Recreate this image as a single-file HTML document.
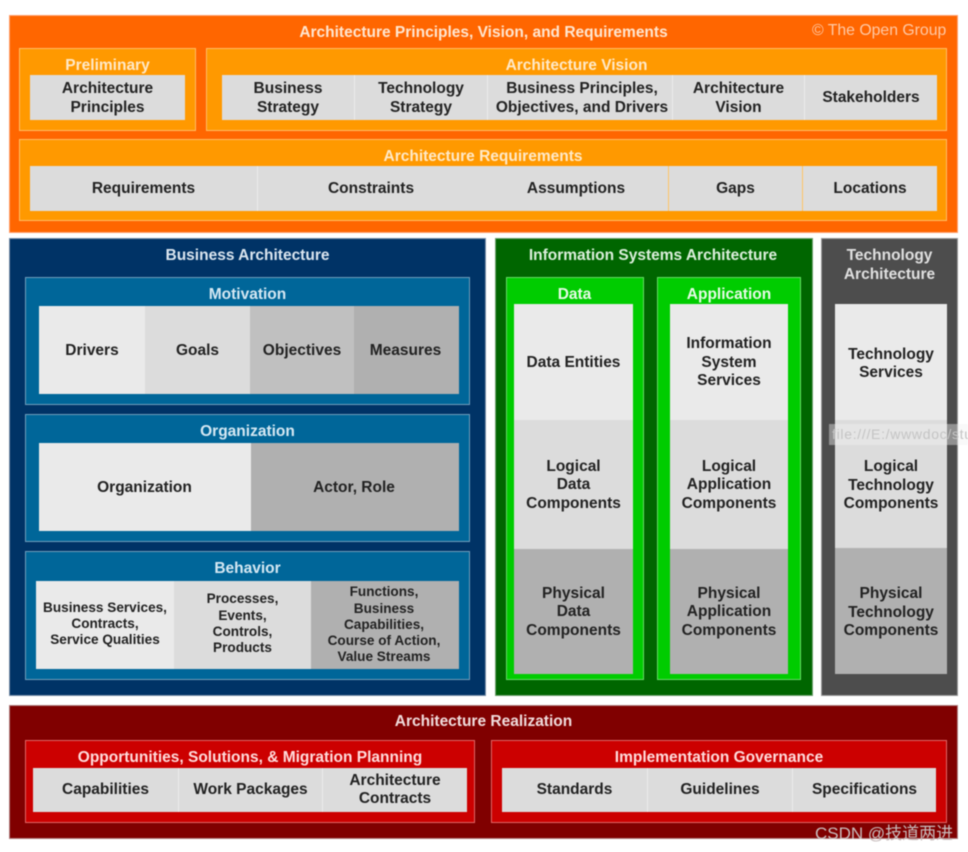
<!DOCTYPE html>
<html><head><meta charset="utf-8">
<style>
html,body{margin:0;padding:0;background:#fff;width:968px;height:852px;overflow:hidden}
#r{position:absolute;left:0;top:0;width:968px;height:852px;filter:blur(.55px);font:bold 15.5px/18.5px "Liberation Sans",sans-serif;color:#222}
.b{position:absolute;box-sizing:border-box}
.c{position:absolute;box-sizing:border-box;display:flex;align-items:center;justify-content:center;text-align:center;padding-top:2px}
.h{position:absolute;text-align:center;white-space:nowrap;color:#fff}
.t{white-space:nowrap}
.s{font-size:13.6px;line-height:16.3px;padding-top:0}
.n{padding-top:0}
.p4{padding-top:4px}
.dl{border-left:1px solid #ececec}
.dg{border-left:1px solid #ffc464}
.l1{background:#eaeaea}.l2{background:#dcdcdc}.l3{background:#c0c0c0}.l4{background:#b0b0b0}
</style></head><body><div id="r">
<!-- Top orange -->
<div class="b" style="left:9px;top:15px;width:949px;height:218px;background:#ff6600;border:1px solid #ffa070"></div>
<div class="h" style="left:9px;top:24px;width:949px;color:#ffe6d0">Architecture Principles, Vision, and Requirements</div>
<div class="h" style="left:812px;top:22px;font-weight:normal;font-size:15.8px;color:#ffc9a5">© The Open Group</div>
<div class="b" style="left:19px;top:48px;width:177px;height:83px;background:#ff9900;border:1px solid #ffbb66"></div>
<div class="h" style="left:19px;top:57px;width:177px;color:#ffe9c8">Preliminary</div>
<div class="c l2" style="left:30px;top:75px;width:155px;height:45px">Architecture<br>Principles</div>
<div class="b" style="left:206px;top:48px;width:741px;height:83px;background:#ff9900;border:1px solid #ffbb66"></div>
<div class="h" style="left:206px;top:57px;width:741px;color:#ffe9c8">Architecture Vision</div>
<div class="c l2" style="left:222px;top:75px;width:132px;height:45px">Business<br>Strategy</div>
<div class="c l2 dl" style="left:354px;top:75px;width:133px;height:45px">Technology<br>Strategy</div>
<div class="c l2 dl" style="left:487px;top:75px;width:189px;height:45px"><span class="t">Business Principles,<br>Objectives, and Drivers</span></div>
<div class="c l2 dl" style="left:672px;top:75px;width:132px;height:45px;z-index:1">Architecture<br>Vision</div>
<div class="c l2 dl" style="left:804px;top:75px;width:133px;height:45px">Stakeholders</div>
<div class="b" style="left:19px;top:139px;width:928px;height:82px;background:#ff9900;border:1px solid #ffbb66"></div>
<div class="h" style="left:19px;top:148px;width:928px;color:#ffe9c8">Architecture Requirements</div>
<div class="c l2" style="left:30px;top:166px;width:227px;height:45px">Requirements</div>
<div class="c l2 dl" style="left:257px;top:166px;width:227px;height:45px">Constraints</div>
<div class="c l2" style="left:484px;top:166px;width:184px;height:45px">Assumptions</div>
<div class="c l2 dg" style="left:668px;top:166px;width:134px;height:45px">Gaps</div>
<div class="c l2 dg" style="left:802px;top:166px;width:135px;height:45px">Locations</div>

<!-- Business -->
<div class="b" style="left:9px;top:238px;width:477px;height:458px;background:#003366;border:1px solid #7a8fa8"></div>
<div class="h" style="left:9px;top:247px;width:477px;color:#dbe6f0">Business Architecture</div>
<div class="b" style="left:25px;top:277px;width:445px;height:128px;background:#006699;border:1px solid #6f9dbb"></div>
<div class="h" style="left:25px;top:286px;width:445px;color:#d5e8f3">Motivation</div>
<div class="c l1" style="left:39px;top:306px;width:106px;height:88px">Drivers</div>
<div class="c l2" style="left:145px;top:306px;width:105px;height:88px">Goals</div>
<div class="c l3" style="left:250px;top:306px;width:104px;height:88px">Objectives</div>
<div class="c l4" style="left:354px;top:306px;width:105px;height:88px;padding-right:2px">Measures</div>
<div class="b" style="left:25px;top:414px;width:445px;height:128px;background:#006699;border:1px solid #6f9dbb"></div>
<div class="h" style="left:25px;top:423px;width:445px;color:#d5e8f3">Organization</div>
<div class="c l1" style="left:39px;top:443px;width:212px;height:88px;padding-right:1px">Organization</div>
<div class="c l4" style="left:251px;top:443px;width:208px;height:88px;padding-right:2px">Actor, Role</div>
<div class="b" style="left:25px;top:551px;width:445px;height:129px;background:#006699;border:1px solid #6f9dbb"></div>
<div class="h" style="left:25px;top:560px;width:445px;color:#d5e8f3">Behavior</div>
<div class="c l1 s" style="left:36px;top:581px;width:138px;height:88px;padding-bottom:2px"><span class="t">Business Services,<br>Contracts,<br>Service Qualities</span></div>
<div class="c l2 s" style="left:174px;top:581px;width:137px;height:88px;padding-bottom:2px"><span class="t">Processes,<br>Events,<br>Controls,<br>Products</span></div>
<div class="c l4 s" style="left:311px;top:581px;width:148px;height:88px;padding-right:2px"><span class="t">Functions,<br>Business<br>Capabilities,<br>Course of Action,<br>Value Streams</span></div>

<!-- Info Systems -->
<div class="b" style="left:495px;top:238px;width:318px;height:458px;background:#006600;border:1px solid #70a070"></div>
<div class="h" style="left:494px;top:247px;width:318px;color:#dcefdc">Information Systems Architecture</div>
<div class="b" style="left:506px;top:277px;width:138px;height:403px;background:#00cc00;border:1px solid #66dd66"></div>
<div class="h" style="left:506px;top:286px;width:137px;color:#e6fbe6">Data</div>
<div class="c l1" style="left:514px;top:304px;width:119px;height:116px">Data Entities</div>
<div class="c l2" style="left:514px;top:420px;width:119px;height:129px">Logical<br>Data<br>Components</div>
<div class="c l4" style="left:514px;top:549px;width:119px;height:125px">Physical<br>Data<br>Components</div>
<div class="b" style="left:657px;top:277px;width:144px;height:403px;background:#00cc00;border:1px solid #66dd66"></div>
<div class="h" style="left:657px;top:286px;width:144px;color:#e6fbe6">Application</div>
<div class="c l1" style="left:670px;top:304px;width:118px;height:116px">Information<br>System<br>Services</div>
<div class="c l2" style="left:670px;top:420px;width:118px;height:129px">Logical<br>Application<br>Components</div>
<div class="c l4" style="left:670px;top:549px;width:118px;height:125px">Physical<br>Application<br>Components</div>

<!-- Technology -->
<div class="b" style="left:821px;top:238px;width:137px;height:458px;background:#4d4d4d;border:1px solid #9a9a9a"></div>
<div class="h" style="left:821px;top:247px;width:137px;color:#e0e0e0">Technology<br>Architecture</div>
<div class="c l1 p4" style="left:835px;top:304px;width:112px;height:116px">Technology<br>Services</div>
<div class="c l2 p4" style="left:835px;top:420px;width:112px;height:128px">Logical<br>Technology<br>Components</div>
<div class="c l4 p4" style="left:835px;top:548px;width:112px;height:126px">Physical<br>Technology<br>Components</div>

<!-- Realization -->
<div class="b" style="left:9px;top:705px;width:949px;height:134px;background:#800000;border:1px solid #b08080"></div>
<div class="h" style="left:9px;top:713px;width:949px;color:#f0dcdc">Architecture Realization</div>
<div class="b" style="left:25px;top:740px;width:450px;height:83px;background:#cc0000;border:1px solid #e06666"></div>
<div class="h" style="left:25px;top:749px;width:450px;color:#ffdcdc">Opportunities, Solutions, &amp; Migration Planning</div>
<div class="c l2 n" style="left:33px;top:768px;width:145px;height:44px">Capabilities</div>
<div class="c l2 n dl" style="left:178px;top:768px;width:144px;height:44px">Work Packages</div>
<div class="c l2 n dl" style="left:322px;top:768px;width:145px;height:44px">Architecture<br>Contracts</div>
<div class="b" style="left:491px;top:740px;width:456px;height:83px;background:#cc0000;border:1px solid #e06666"></div>
<div class="h" style="left:491px;top:749px;width:456px;color:#ffdcdc">Implementation Governance</div>
<div class="c l2 n" style="left:502px;top:768px;width:145px;height:44px">Standards</div>
<div class="c l2 n dl" style="left:647px;top:768px;width:145px;height:44px">Guidelines</div>
<div class="c l2 n dl" style="left:792px;top:768px;width:144px;height:44px">Specifications</div>

<!-- Overlays -->
<div class="b" style="left:829px;top:424px;width:139px;height:21px;background:rgba(240,240,240,.42);overflow:hidden;font-weight:normal;font-size:14px;line-height:21px;color:#c4c4c4;padding-left:3px;white-space:nowrap;letter-spacing:.7px">file:///E:/wwwdoc/study</div>
<div class="h" style="left:815px;top:824px;font-weight:normal;font-size:17px;line-height:20px;color:#c8bcbc;font-family:'Liberation Sans','Noto Sans CJK SC',sans-serif">CSDN @技道两进</div>
</div></body></html>
